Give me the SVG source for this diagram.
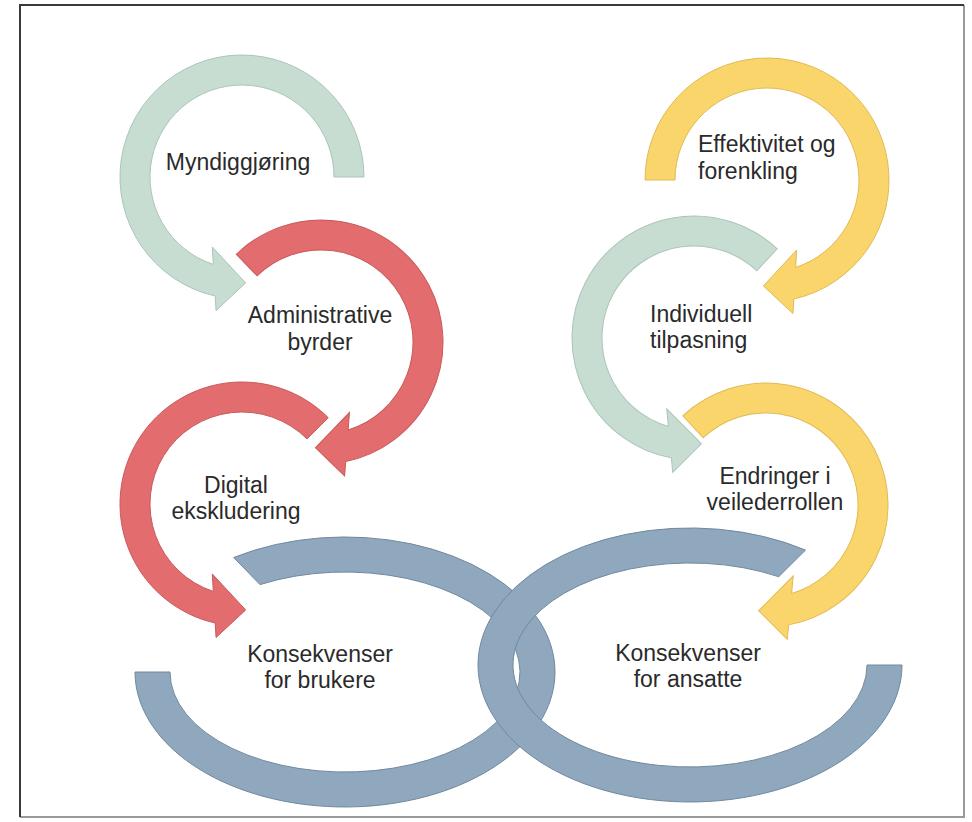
<svg xmlns="http://www.w3.org/2000/svg" width="972" height="822" viewBox="0 0 972 822">
<style>
.green{fill:#c7ddd2;stroke:#aac5b9;stroke-width:1}
.red{fill:#e36d6e;stroke:#c95a5c;stroke-width:1}
.yellow{fill:#fad56c;stroke:#e0bb55;stroke-width:1}
.blue{fill:#8fa8be;stroke:#71889e;stroke-width:1}
text{font-family:"Liberation Sans",Arial,sans-serif;font-size:23px;fill:#2a2a2a}
.frame-dark{stroke:#3a3a3a;stroke-width:2;fill:none}
.frame-light{stroke:#9a9a9a;stroke-width:2;fill:none}
</style>
<defs>
<path id="arcA" d="M 122 0 A 122 122 0 1 1 -26.80 -119.02 L -25.95 -133.50 L 3.70 -105.94 L -29.70 -69.96 L -28.67 -87.42 A 92 92 0 1 0 92 0 Z"/>
<path id="arcB" d="M 86.27 86.27 A 122 122 0 1 1 -26.80 -119.02 L -25.95 -133.50 L 3.70 -105.94 L -29.70 -69.96 L -28.67 -87.42 A 92 92 0 1 0 65.05 65.05 Z"/>
</defs>
<rect x="0" y="0" width="972" height="822" fill="#ffffff"/>
<path class="frame-light" d="M 964 5 L 964 817 L 20 817"/>
<path class="frame-dark" d="M 20 817 L 20 5 L 964 5"/>

<g id="konsekvenser-brukere">
<path class="blue" d="M 233.7 557.5 A 210 135 0 1 1 135 672 L 170 672 A 175 100 0 1 0 260 584.6 Z"/>
<text x="320" y="662" text-anchor="middle">Konsekvenser</text>
<text x="320" y="688" text-anchor="middle">for brukere</text>
</g>
<g id="konsekvenser-ansatte">
<path class="blue" d="M 805.5 550.1 A 212 137 0 1 0 902 665 L 867 665 A 177 102 0 1 1 778.7 576.7 Z"/>
<text x="688" y="661" text-anchor="middle">Konsekvenser</text>
<text x="688" y="687" text-anchor="middle">for ansatte</text>
</g>

<g id="myndiggjoring">
<use href="#arcA" class="green" transform="translate(242,177) scale(1,-1)"/>
<text x="238" y="170" text-anchor="middle">Myndiggjøring</text>
</g>
<g id="digital-ekskludering">
<use href="#arcB" class="red" transform="translate(242,504) scale(1,-1)"/>
<text x="236" y="493" text-anchor="middle">Digital</text>
<text x="236" y="519" text-anchor="middle">ekskludering</text>
</g>
<g id="administrative-byrder">
<use href="#arcB" class="red" transform="translate(321,342) rotate(181)"/>
<text x="320" y="323" text-anchor="middle">Administrative</text>
<text x="320" y="350" text-anchor="middle">byrder</text>
</g>

<g id="individuell-tilpasning">
<use href="#arcB" class="green" transform="translate(694,338) rotate(-2) scale(1,-1)"/>
<text x="650" y="322">Individuell</text>
<text x="650" y="348">tilpasning</text>
</g>
<g id="effektivitet">
<use href="#arcA" class="yellow" transform="translate(767,180) rotate(180)"/>
<text x="698" y="152">Effektivitet og</text>
<text x="698" y="179">forenkling</text>
</g>
<g id="endringer-veilederrollen">
<use href="#arcB" class="yellow" transform="translate(766,505) rotate(182)"/>
<text x="775" y="484" text-anchor="middle">Endringer i</text>
<text x="775" y="510" text-anchor="middle">veilederrollen</text>
</g>
<g id="connectors"></g>
</svg>
